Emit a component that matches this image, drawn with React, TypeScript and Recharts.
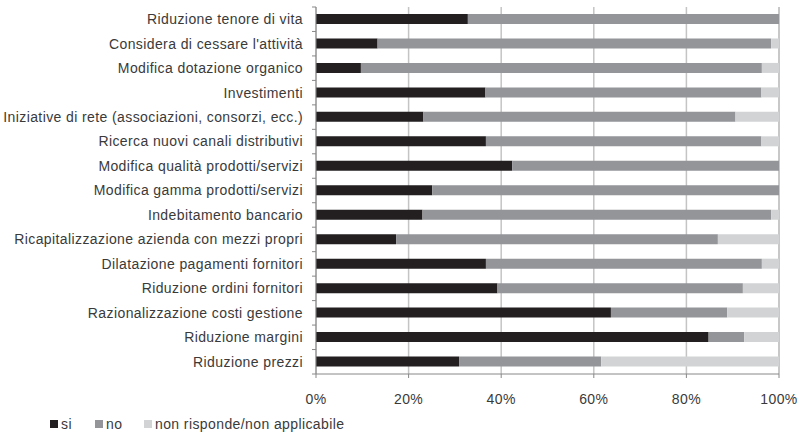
import { BarChart, Bar, XAxis, YAxis, CartesianGrid, Legend } from "recharts";

const categories = [
  "Riduzione tenore di vita",
  "Considera di cessare l'attività",
  "Modifica dotazione organico",
  "Investimenti",
  "Iniziative di rete (associazioni, consorzi, ecc.)",
  "Ricerca nuovi canali distributivi",
  "Modifica qualità prodotti/servizi",
  "Modifica gamma prodotti/servizi",
  "Indebitamento bancario",
  "Ricapitalizzazione azienda con mezzi propri",
  "Dilatazione pagamenti fornitori",
  "Riduzione ordini fornitori",
  "Razionalizzazione costi gestione",
  "Riduzione margini",
  "Riduzione prezzi",
];
const si = [32.8, 13.3, 9.7, 36.6, 23.2, 36.7, 42.4, 25.1, 23.0, 17.3, 36.7, 39.2, 63.7, 84.8, 30.9];
const no = [67.2, 85.0, 86.6, 59.6, 67.4, 59.5, 57.6, 74.9, 75.3, 69.5, 59.6, 53.0, 25.1, 7.7, 30.7];
const nr = [0, 1.7, 3.7, 3.8, 9.4, 3.8, 0, 0, 1.7, 13.2, 3.7, 7.8, 11.2, 7.5, 38.4];
const xTicks = [0, 20, 40, 60, 80, 100];

const series = [
  { key: "si", label: "si", color: "#231f20", w: 45 },
  { key: "no", label: "no", color: "#939598", w: 49 },
  { key: "nr", label: "non risponde/non applicabile", color: "#d1d3d4", w: 220 },
];

const data = categories.map((name, i) => ({ name, si: si[i], no: no[i], nr: nr[i] }));

const W = 802;
const H = 433;
const TOP = 7;
const PLOT_BOTTOM = 374;
const BAND = (PLOT_BOTTOM - TOP) / categories.length;
const FONT = "'Liberation Sans', Arial, sans-serif";
const TEXT = "#3a3a3a";
const LS = 0.4;

function YTick(props: any) {
  const { x, y, payload, index } = props;
  return (
    <g>
      <text x={x - 13} y={y} dy="0.35em" textAnchor="end" fontSize={14} letterSpacing={LS} fill={TEXT} fontFamily={FONT}>
        {payload.value}
      </text>
      {index === 0 && <line x1={x - 4} x2={x} y1={y - BAND / 2} y2={y - BAND / 2} stroke="#888" />}
      <line x1={x - 4} x2={x} y1={y + BAND / 2} y2={y + BAND / 2} stroke="#888" />
    </g>
  );
}

function LegendBox() {
  return (
    <div style={{ height: 18, display: "flex", alignItems: "center", paddingLeft: 50, fontFamily: FONT, fontSize: 14, letterSpacing: LS, color: TEXT }}>
      {series.map((s) => (
        <span key={s.key} style={{ display: "flex", alignItems: "center", width: s.w }}>
          <span style={{ width: 8, height: 8, background: s.color, marginRight: 3, display: "inline-block" }} />
          {s.label}
        </span>
      ))}
    </div>
  );
}

export default function App() {
  return (
    <div style={{ position: "absolute", left: 0, top: 0, width: W, height: H, background: "#fff" }}>
      <BarChart width={W} height={H} data={data} layout="vertical" margin={{ top: TOP, right: 23, bottom: 0, left: 0 }} barSize={10}>
        <CartesianGrid horizontal={false} stroke="#c4c4c4" strokeWidth={1.5} />
        <XAxis
          type="number"
          domain={[0, 100]}
          ticks={xTicks}
          tickFormatter={(v) => `${v}%`}
          tickSize={4}
          tickMargin={16}
          height={41}
          stroke="#888"
          tick={{ fontSize: 14, fill: TEXT, fontFamily: FONT, letterSpacing: LS }}
        />
        <YAxis
          type="category"
          dataKey="name"
          width={316}
          tickLine={false}
          tickSize={0}
          tickMargin={0}
          interval={0}
          stroke="#888"
          tick={<YTick />}
        />
        <Legend verticalAlign="bottom" align="left" content={() => <LegendBox />} wrapperStyle={{ left: 0, width: W }} />
        {series.map((s) => (
          <Bar key={s.key} dataKey={s.key} name={s.label} stackId="a" fill={s.color} isAnimationActive={false} />
        ))}
      </BarChart>
    </div>
  );
}
